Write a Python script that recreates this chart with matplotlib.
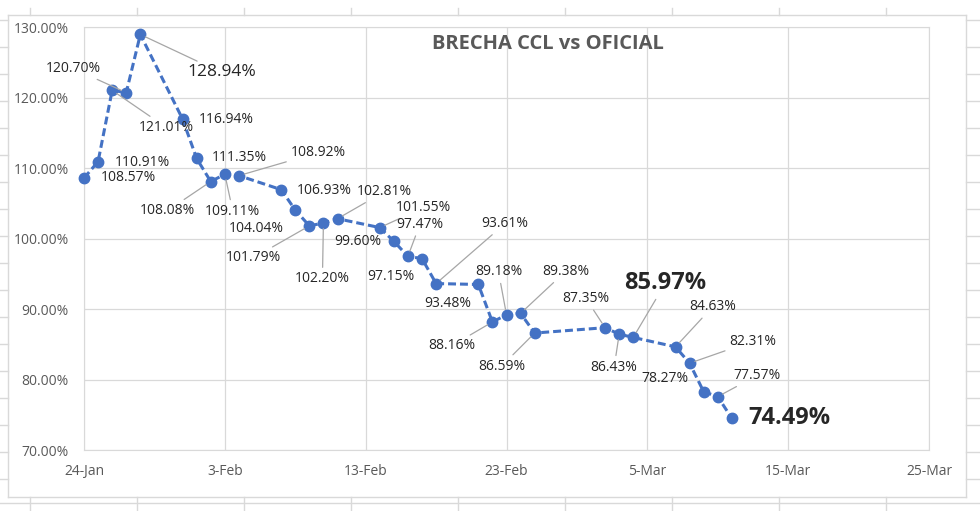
import datetime as dt
import matplotlib
matplotlib.use('Agg')
import matplotlib.pyplot as plt
import matplotlib.dates as mdates
from matplotlib.lines import Line2D
from matplotlib.ticker import FuncFormatter


DATES = ['2022-01-24', '2022-01-25', '2022-01-26', '2022-01-27', '2022-01-28',
         '2022-01-31', '2022-02-01', '2022-02-02', '2022-02-03', '2022-02-04',
         '2022-02-07', '2022-02-08', '2022-02-09', '2022-02-10', '2022-02-11',
         '2022-02-14', '2022-02-15', '2022-02-16', '2022-02-17', '2022-02-18',
         '2022-02-21', '2022-02-22', '2022-02-23', '2022-02-24', '2022-02-25',
         '2022-03-02', '2022-03-03', '2022-03-04', '2022-03-07', '2022-03-08',
         '2022-03-09', '2022-03-10', '2022-03-11']
BRECHA = [108.57, 110.91, 121.01, 120.70, 128.94,
          116.94, 111.35, 108.08, 109.11, 108.92,
          106.93, 104.04, 101.79, 102.20, 102.81,
          101.55, 99.60, 97.47, 97.15, 93.61,
          93.48, 88.16, 89.18, 89.38, 86.59,
          87.35, 86.43, 85.97, 84.63, 82.31,
          78.27, 77.57, 74.49]

Y_TICKS = [70, 80, 90, 100, 110, 120, 130]
X_START = '2022-01-24'
X_END = '2022-03-25'

# label placement (pixels from the point) and whether a leader line is drawn
LABEL_OFFSETS = [(44, 1), (44, -1), (54, -37), (-53, 24), (81, -38),
                 (44, 0), (43, 1), (-43, -29), (8, -37), (79, 23),
                 (43, -1), (-39, -18), (-56, -32), (-1, -56), (47, 27),
                 (44, 20), (-36, 0), (12, 32), (-31, -18), (69, 60),
                 (-31, -19), (-41, -24), (-8, 43), (45, 42), (-33, -33),
                 (-19, 29), (-5, -33), (32, 54), (37, 40), (63, 22),
                 (-39, 13), (39, 21), (58, 0)]
LEADERS = [0, 0, 1, 1, 1,
           0, 0, 1, 1, 1,
           0, 0, 1, 1, 1,
           1, 0, 1, 0, 1,
           0, 1, 1, 1, 1,
           1, 1, 1, 1, 1,
           0, 1, 0]
BIG_LABELS = {4: (12.5, 'normal'), 27: (17, 'bold'), 32: (17, 'bold')}

COLOR_LINE = '#4472C4'
COLOR_GRID = '#D9D9D9'
COLOR_AXIS_TEXT = '#595959'
COLOR_LABEL = '#262626'
COLOR_LEADER = '#A6A6A6'
W, H = 980, 511

plt.rcParams['font.family'] = ['Open Sans', 'DejaVu Sans']


def px(x, y):
  return x / W, 1 - y / H


def draw_sheet(fig):
  # chart border and the spreadsheet cells around it
  def seg(x0, y0, x1, y1):
    a, b = px(x0, y0)
    c, d = px(x1, y1)
    fig.add_artist(Line2D([a, c], [b, d], color=COLOR_GRID, lw=1))

  seg(8, 15, 966, 15)
  seg(8, 497, 966, 497)
  seg(8, 15, 8, 497)
  seg(966, 15, 966, 497)
  seg(0, 503, 980, 503)
  for x in range(30, 980, 107):
    seg(x, 8, x, 15)
    seg(x, 497, x, 511)
  for y in range(20, 497, 27):
    seg(0, y, 8, y)
    seg(966, y, 980, y)


def draw_labels(ax, dates, values):
  for i, (d, v) in enumerate(zip(dates, values)):
    size, weight = BIG_LABELS.get(i, (10, 'normal'))
    arrow = None
    if LEADERS[i]:
      arrow = dict(arrowstyle='-', color=COLOR_LEADER, lw=0.9, shrinkA=1, shrinkB=4)
    ax.annotate(f'{v:.2f}%', (d, v), xytext=LABEL_OFFSETS[i], textcoords='offset pixels',
                ha='center', va='center', fontsize=size, fontweight=weight,
                color=COLOR_LABEL, arrowprops=arrow, zorder=4)


def main():
  dates = [dt.datetime.strptime(d, '%Y-%m-%d') for d in DATES]
  x0 = dt.datetime.strptime(X_START, '%Y-%m-%d')
  x1 = dt.datetime.strptime(X_END, '%Y-%m-%d')

  fig = plt.figure(figsize=(W / 100, H / 100), dpi=100)
  ax = fig.add_axes([84 / W, (H - 450) / H, (929 - 84) / W, (450 - 27) / H])

  ax.plot(dates, BRECHA, color=COLOR_LINE, lw=2.2, linestyle=(0, (2.6, 1.3)),
          marker='o', markersize=7.5, zorder=3, clip_on=False)

  ax.set_xlim(x0, x1)
  ax.set_ylim(Y_TICKS[0], Y_TICKS[-1])
  ax.set_yticks(Y_TICKS)
  ax.yaxis.set_major_formatter(FuncFormatter(lambda v, p: f'{v:.2f}%'))
  ticks = [x0 + dt.timedelta(days=10 * k) for k in range(7)]
  ax.set_xticks(ticks)
  ax.xaxis.set_major_formatter(FuncFormatter(
      lambda v, p: f'{mdates.num2date(v).day}-{mdates.num2date(v):%b}'))

  ax.grid(True, color=COLOR_GRID, lw=0.9)
  ax.set_axisbelow(True)
  for s in ax.spines.values():
    s.set_color(COLOR_GRID)
  ax.tick_params(length=0, labelsize=10, labelcolor=COLOR_AXIS_TEXT)
  ax.tick_params(axis='y', pad=11)
  ax.tick_params(axis='x', pad=10)

  ax.text(0.549, 0.96, 'BRECHA CCL vs OFICIAL', transform=ax.transAxes,
          ha='center', va='center', fontsize=14.5, fontweight='bold', color=COLOR_AXIS_TEXT)

  draw_labels(ax, dates, BRECHA)
  draw_sheet(fig)

  fig.savefig('out.png', dpi=100)


main()
